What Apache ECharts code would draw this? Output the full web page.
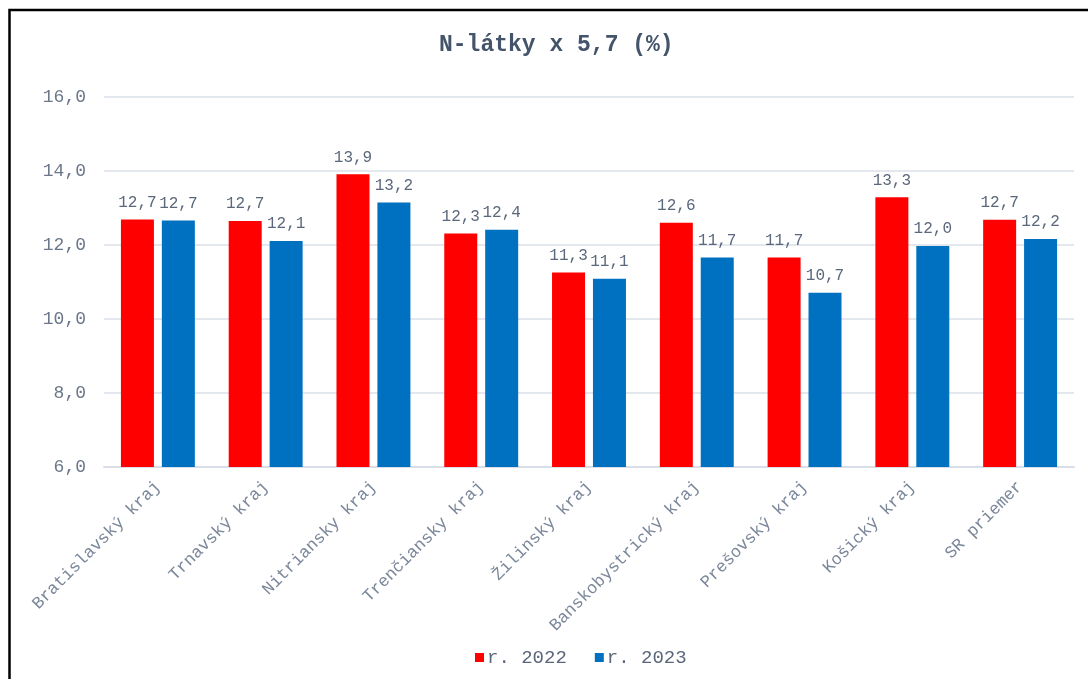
<!DOCTYPE html>
<html>
<head>
<meta charset="utf-8">
<script src="https://cdn.jsdelivr.net/npm/echarts@6/dist/echarts.min.js"></script>
<style>
html,body{margin:0;padding:0;background:#fff;}
#c{width:1088px;height:679px;}
</style>
</head>
<body>
<div id="c"></div>
<script>
const categories = ["Bratislavský kraj","Trnavský kraj","Nitriansky kraj","Trenčiansky kraj","Žilinský kraj","Banskobystrický kraj","Prešovský kraj","Košický kraj","SR priemer"];
const values2022 = [12.69, 12.65, 13.91, 12.31, 11.26, 12.60, 11.66, 13.29, 12.68];
const values2023 = [12.66, 12.11, 13.15, 12.41, 11.09, 11.66, 10.71, 11.97, 12.16];
const seriesNames = ["r. 2022", "r. 2023"];
const titleText = "N-látky x 5,7 (%)";

const fmt = v => (Math.round(v * 10) / 10).toFixed(1).replace('.', ',');
const FONT = '"Liberation Mono", "Courier New", monospace';

const chart = echarts.init(document.getElementById('c'), null, {renderer: 'canvas'});
const labelStyle = {
  show: true, position: 'top', distance: 9,
  fontFamily: FONT, fontSize: 16, color: '#5b677b',
  formatter: p => fmt(p.value)
};
chart.setOption({
  backgroundColor: '#ffffff',
  animation: false,
  title: {
    text: titleText, left: 434, top: 29,
    textStyle: {fontFamily: FONT, fontSize: 23, fontWeight: 'bold', color: '#44546a'}
  },
  graphic: [{
    type: 'polyline',
    shape: {points: [[9.5, 679], [9.5, 10], [1088, 10]]},
    style: {stroke: '#000', lineWidth: 2.5, fill: null},
    z: 100
  }],
  legend: {
    data: seriesNames, bottom: 7, left: 470,
    itemWidth: 9, itemHeight: 9, itemGap: 28,
    icon: 'rect',
    textStyle: {fontFamily: FONT, fontSize: 19, color: '#5b677b', padding: [0, 0, 0, -2]}
  },
  grid: {left: 104, right: 14, top: 97, bottom: 212, containLabel: false},
  xAxis: {
    type: 'category', data: categories,
    axisLine: {show: true, lineStyle: {color: '#d9dee8', width: 2}},
    axisTick: {show: false},
    axisLabel: {rotate: 45, margin: 17, fontFamily: FONT, fontSize: 17, color: '#7b879a', interval: 0}
  },
  yAxis: {
    type: 'value', min: 6, max: 16, interval: 2,
    axisLine: {show: false}, axisTick: {show: false},
    splitLine: {lineStyle: {color: '#e3e7ee', width: 2}},
    axisLabel: {margin: 18, fontFamily: FONT, fontSize: 18, color: '#6b778a', formatter: v => fmt(v)}
  },
  series: [
    {name: seriesNames[0], type: 'bar', data: values2022, barWidth: 33, barGap: '24%',
     itemStyle: {color: '#ff0000'}, label: labelStyle},
    {name: seriesNames[1], type: 'bar', data: values2023, barWidth: 33, barGap: '24%',
     itemStyle: {color: '#0070c0'}, label: labelStyle}
  ]
});
</script>
</body>
</html>
